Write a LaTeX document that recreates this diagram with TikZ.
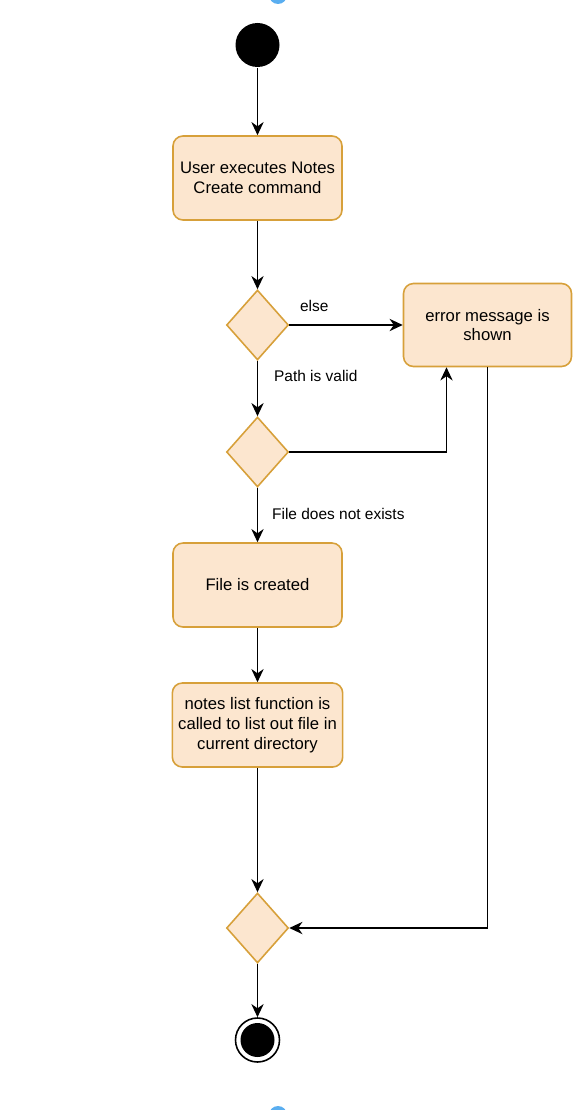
\documentclass[tikz,border=0pt]{standalone}
\usepackage{fontspec}
\setmainfont{Liberation Sans}
\usetikzlibrary{arrows.meta,positioning,shapes.geometric}
\definecolor{boxfill}{HTML}{FCE6CF}
\definecolor{boxline}{HTML}{D7A03A}
\definecolor{handle}{HTML}{5AAEF0}

\begin{document}
\begin{tikzpicture}[>={Stealth[length=7.5pt,width=7pt]}, line width=0.9pt, node distance=2.7cm, on grid,
        activity/.style = {draw=boxline, fill=boxfill, rounded corners=0.2cm, align=center, minimum width=3.38cm, minimum height=1.68cm, font=\fontsize{9.5}{11.2}\selectfont},
        decision/.style = {diamond, draw=boxline, fill=boxfill, inner sep=0pt, minimum width=1.24cm, minimum height=1.4cm},
        startstate/.style = {circle, fill=black, minimum size=0.88cm, inner sep=0pt},
        endstate/.style = {circle, draw=black, fill=white, minimum size=0.88cm, inner sep=0pt},
        lbl/.style = {font=\fontsize{8.8}{10}\selectfont}]
        \useasboundingbox (0,0) rectangle (11.68,-22.2);

        \node[startstate] (start) at (5.15,-0.90) {};
        \node[activity] (cmd) [below of=start, node distance=2.66cm] {User executes Notes\\Create command};
        \node[decision] (valid) [below of=cmd, node distance=2.94cm] {};
        \node[activity, minimum width=3.36cm, minimum height=1.66cm] (error) [right of=valid, node distance=4.6cm] {error message is\\shown};
        \node[decision] (exists) [below of=valid, node distance=2.54cm] {};
        \node[activity] (created) [below of=exists, node distance=2.66cm] {File is created};
        \node[activity] (list) [below of=created, node distance=2.8cm] {notes list function is\\called to list out file in\\current directory};
        \node[decision] (merge) [below of=list, node distance=4.06cm] {};
        \node[endstate] (end) [below of=merge, node distance=2.24cm] {};
        \fill (end.center) circle (0.34cm);

        % editor handles
        \fill[handle] (5.56,0.1) circle (0.18cm);
        \fill[handle] (5.56,-22.3) circle (0.18cm);

        \path[->]
        (start) edge (cmd)
        (cmd) edge (valid)
        (valid)
        edge node[lbl, pos=0.22, yshift=0.38cm] {else} (error)
        edge node[lbl, pos=0.28, anchor=west, xshift=0.2cm] {Path is valid} (exists)
        (exists)
        edge node[lbl, pos=0.48, anchor=west, xshift=0.16cm] {File does not exists} (created)
        (created) edge (list)
        (list) edge (merge)
        (merge) edge (end)
        ;
        \draw[->] (exists.east) -| ([xshift=-0.82cm]error.south);
        \draw[->] (error.south) |- (merge.east);
\end{tikzpicture}
\end{document}
